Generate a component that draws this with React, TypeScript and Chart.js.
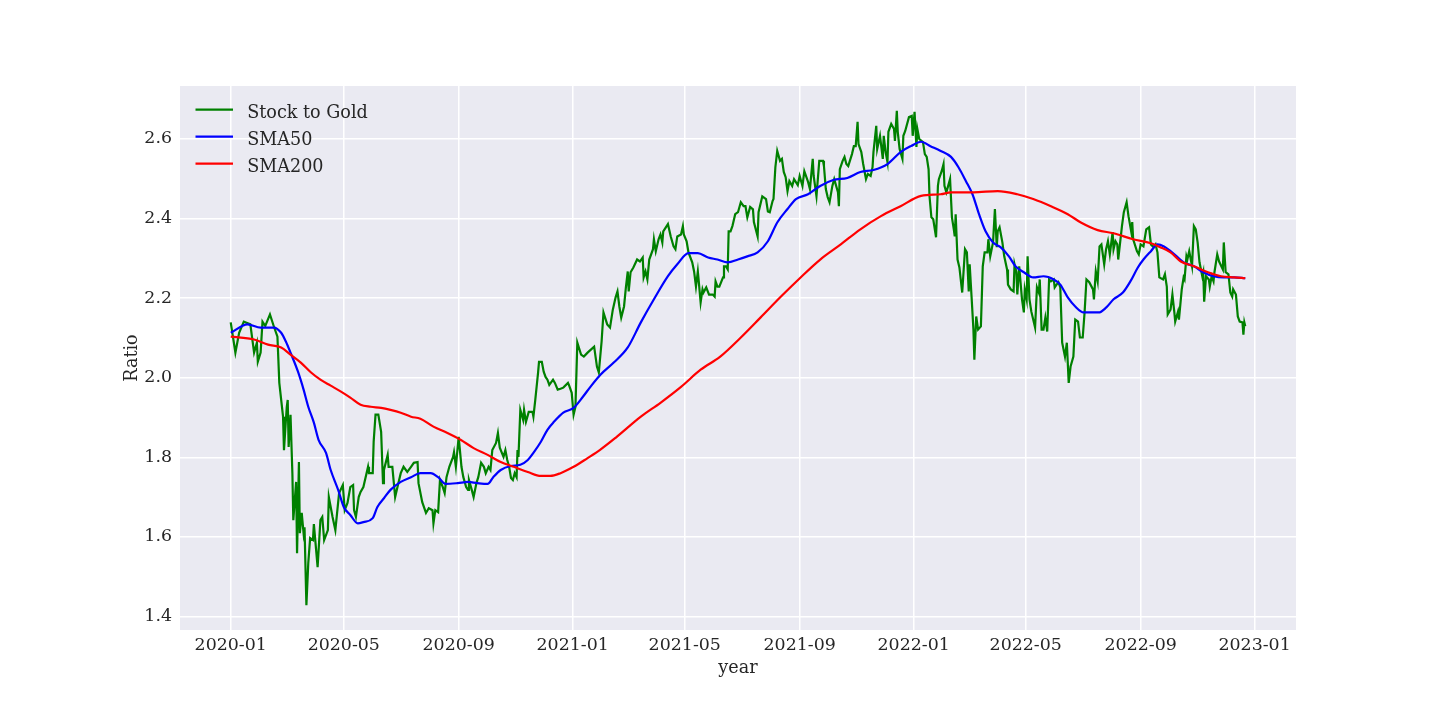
import { useEffect, useRef } from 'react';
import { Chart, registerables } from 'chart.js';

Chart.register(...registerables);

const FONT = "'DejaVu Serif', serif";
const INK = '#262626';
const PANEL = '#EAEAF2';

// x values are days counted from 2020-01-01
const START = Date.UTC(2020, 0, 1);
const xTickLabels = ['2020-01', '2020-05', '2020-09', '2021-01', '2021-05', '2021-09', '2022-01', '2022-05', '2022-09', '2023-01'];
const yTicks = [1.4, 1.6, 1.8, 2.0, 2.2, 2.4, 2.6];
const seriesLabels = ['Stock to Gold', 'SMA50', 'SMA200'];
const seriesColors = ['#008000', '#0000ff', '#ff0000'];

const greenDays = [
  0, 5, 9, 14, 21, 25, 28, 29, 32, 34,
  37, 42, 46, 50, 52, 56, 57, 60, 61, 62,
  64, 66, 67, 70, 71, 73, 74, 76, 78, 79,
  81, 83, 85, 88, 89, 93, 96, 98, 100, 104,
  105, 109, 112, 116, 120, 122, 125, 128, 131, 132,
  134, 137, 139, 142, 147, 148, 152, 153, 155, 158,
  161, 163, 164, 168, 169, 173, 176, 179, 182, 185,
  189, 193, 196, 200, 201, 205, 209, 212, 216, 217,
  219, 222, 224, 227, 229, 231, 234, 238, 239, 241,
  244, 247, 249, 252, 254, 255, 258, 260, 263, 265,
  268, 271, 273, 276, 278, 280, 284, 286, 288, 292,
  294, 296, 298, 300, 302, 304, 306, 307, 308, 310,
  313, 314, 316, 319, 323, 324, 326, 329, 330, 333,
  335, 337, 339, 341, 345, 347, 350, 353, 356, 361,
  362, 365, 367, 369, 371, 375, 378, 382, 389, 392,
  394, 397, 399, 403, 406, 409, 412, 414, 416, 418,
  421, 423, 425, 426, 428, 431, 435, 438, 441, 442,
  444, 446, 448, 452, 453, 455, 458, 460, 462, 463,
  468, 471, 474, 476, 478, 482, 484, 485, 488, 490,
  494, 496, 498, 500, 501, 503, 505, 506, 509, 512,
  516, 518, 519, 521, 523, 527, 528, 530, 532, 533,
  535, 537, 538, 540, 543, 546, 549, 551, 553, 556,
  559, 560, 564, 565, 569, 573, 575, 577, 580, 581,
  583, 585, 588, 590, 592, 594, 596, 598, 601, 603,
  607, 609, 612, 614, 618, 620, 623, 624, 627, 630,
  634, 635, 637, 639, 641, 644, 646, 650, 651, 652,
  655, 657, 659, 661, 665, 667, 669, 671, 672, 675,
  677, 680, 682, 685, 687, 688, 691, 692, 695, 698,
  699, 701, 703, 704, 707, 710, 711, 713, 714, 716,
  719, 720, 722, 726, 729, 730, 732, 734, 735, 737,
  741, 743, 745, 747, 748, 750, 752, 755, 757, 758,
  761, 763, 764, 766, 767, 770, 772, 774, 775, 776,
  778, 780, 783, 786, 788, 790, 791, 793, 795, 796,
  798, 800, 803, 805, 807, 810, 811, 813, 816, 818,
  820, 821, 823, 826, 828, 831, 832, 835, 838, 839,
  841, 842, 844, 847, 849, 850, 852, 853, 855, 857,
  859, 861, 863, 865, 866, 868, 870, 872, 874, 876,
  878, 881, 882, 884, 886, 888, 890, 893, 895, 897,
  899, 902, 904, 907, 909, 912, 914, 916, 919, 923,
  924, 926, 928, 930, 932, 935, 937, 939, 941, 944,
  945, 947, 949, 950, 954, 956, 959, 961, 964, 965,
  966, 970, 972, 974, 977, 980, 983, 985, 988, 990,
  992, 994, 998, 1000, 1002, 1003, 1006, 1008, 1010, 1011,
  1014, 1015, 1018, 1020, 1021, 1023, 1024, 1026, 1029, 1031,
  1033, 1035, 1037, 1040, 1041, 1042, 1044, 1047, 1048, 1050,
  1052, 1053, 1056, 1058, 1062, 1063, 1065, 1068, 1070, 1072,
  1073, 1076, 1078, 1080, 1083, 1084, 1085, 1086,
];
const greenValues = [
  2.139, 2.063, 2.113, 2.141, 2.134, 2.063, 2.088, 2.040, 2.063, 2.141,
  2.130, 2.159, 2.130, 2.103, 1.987, 1.902, 1.818, 1.927, 1.944, 1.826,
  1.907, 1.760, 1.642, 1.738, 1.559, 1.788, 1.609, 1.660, 1.609, 1.624,
  1.428, 1.534, 1.597, 1.592, 1.632, 1.524, 1.642, 1.650, 1.592, 1.617,
  1.700, 1.650, 1.617, 1.710, 1.730, 1.667, 1.685, 1.725, 1.730, 1.667,
  1.650, 1.700, 1.713, 1.725, 1.776, 1.760, 1.760, 1.839, 1.907, 1.907,
  1.864, 1.735, 1.768, 1.806, 1.776, 1.776, 1.700, 1.730, 1.760, 1.776,
  1.763, 1.776, 1.786, 1.788, 1.735, 1.687, 1.660, 1.672, 1.667, 1.634,
  1.667, 1.662, 1.743, 1.725, 1.710, 1.750, 1.776, 1.801, 1.813, 1.776,
  1.851, 1.776, 1.750, 1.725, 1.718, 1.743, 1.718, 1.700, 1.735, 1.750,
  1.786, 1.776, 1.760, 1.776, 1.768, 1.818, 1.836, 1.861, 1.824, 1.801,
  1.818, 1.793, 1.776, 1.748, 1.743, 1.760, 1.750, 1.818, 1.801, 1.919,
  1.894, 1.919, 1.889, 1.914, 1.914, 1.902, 1.944, 2.013, 2.040, 2.040,
  2.015, 2.002, 1.995, 1.982, 1.995, 1.987, 1.970, 1.972, 1.975, 1.987,
  1.982, 1.962, 1.907, 1.927, 2.088, 2.058, 2.053, 2.063, 2.078, 2.028,
  2.013, 2.091, 2.164, 2.134, 2.126, 2.171, 2.202, 2.217, 2.179, 2.151,
  2.179, 2.227, 2.267, 2.217, 2.265, 2.277, 2.297, 2.292, 2.302, 2.252,
  2.267, 2.247, 2.297, 2.323, 2.348, 2.318, 2.348, 2.360, 2.340, 2.368,
  2.386, 2.355, 2.330, 2.323, 2.355, 2.360, 2.381, 2.360, 2.343, 2.315,
  2.290, 2.267, 2.229, 2.267, 2.242, 2.189, 2.222, 2.214, 2.227, 2.209,
  2.209, 2.204, 2.242, 2.229, 2.229, 2.252, 2.280, 2.280, 2.272, 2.368,
  2.368, 2.381, 2.391, 2.411, 2.416, 2.441, 2.431, 2.431, 2.403, 2.429,
  2.423, 2.391, 2.355, 2.416, 2.456, 2.449, 2.418, 2.416, 2.444, 2.449,
  2.529, 2.570, 2.545, 2.550, 2.517, 2.504, 2.469, 2.494, 2.482, 2.499,
  2.484, 2.507, 2.482, 2.519, 2.492, 2.474, 2.550, 2.507, 2.456, 2.545,
  2.545, 2.532, 2.474, 2.454, 2.441, 2.482, 2.499, 2.466, 2.431, 2.524,
  2.545, 2.555, 2.537, 2.532, 2.562, 2.582, 2.582, 2.643, 2.587, 2.567,
  2.537, 2.499, 2.512, 2.507, 2.529, 2.567, 2.633, 2.575, 2.608, 2.550,
  2.608, 2.567, 2.542, 2.618, 2.638, 2.625, 2.595, 2.671, 2.618, 2.575,
  2.550, 2.608, 2.620, 2.655, 2.658, 2.608, 2.668, 2.580, 2.625, 2.600,
  2.592, 2.562, 2.555, 2.524, 2.456, 2.403, 2.398, 2.353, 2.482, 2.499,
  2.519, 2.537, 2.482, 2.466, 2.474, 2.499, 2.403, 2.373, 2.355, 2.411,
  2.297, 2.277, 2.214, 2.323, 2.315, 2.217, 2.285, 2.204, 2.121, 2.045,
  2.154, 2.121, 2.129, 2.280, 2.315, 2.315, 2.348, 2.305, 2.340, 2.424,
  2.328, 2.368, 2.378, 2.340, 2.305, 2.272, 2.234, 2.222, 2.217, 2.285,
  2.265, 2.209, 2.280, 2.197, 2.164, 2.222, 2.197, 2.305, 2.197, 2.166,
  2.146, 2.126, 2.227, 2.214, 2.247, 2.121, 2.121, 2.151, 2.116, 2.247,
  2.242, 2.247, 2.227, 2.234, 2.240, 2.227, 2.088, 2.053, 2.088, 1.987,
  2.028, 2.053, 2.146, 2.141, 2.101, 2.101, 2.164, 2.247, 2.240, 2.222,
  2.197, 2.267, 2.242, 2.330, 2.335, 2.285, 2.323, 2.343, 2.310, 2.366,
  2.323, 2.343, 2.335, 2.297, 2.381, 2.416, 2.441, 2.406, 2.366, 2.391,
  2.348, 2.318, 2.310, 2.335, 2.330, 2.373, 2.378, 2.335, 2.328, 2.335,
  2.315, 2.252, 2.247, 2.260, 2.229, 2.159, 2.171, 2.209, 2.166, 2.141,
  2.166, 2.146, 2.222, 2.252, 2.247, 2.305, 2.297, 2.318, 2.280, 2.381,
  2.373, 2.340, 2.290, 2.255, 2.265, 2.191, 2.255, 2.247, 2.229, 2.255,
  2.242, 2.265, 2.310, 2.292, 2.272, 2.340, 2.265, 2.260, 2.214, 2.204,
  2.222, 2.209, 2.154, 2.141, 2.139, 2.108, 2.139, 2.129,
];

const sma50Days = [
  0, 18, 32, 46, 54, 59, 64, 72, 78, 83,
  89, 94, 102, 107, 115, 121, 128, 136, 142, 152,
  157, 164, 171, 182, 193, 203, 214, 222, 230, 243,
  254, 264, 275, 281, 289, 300, 310, 318, 324, 332,
  339, 346, 356, 367, 377, 385, 396, 410, 425, 439,
  453, 468, 478, 490, 500, 511, 521, 532, 543, 553,
  564, 575, 585, 596, 605, 618, 631, 645, 660, 674,
  688, 703, 717, 728, 739, 749, 760, 771, 779, 787,
  794, 801, 808, 816, 824, 833, 840, 849, 859, 870,
  881, 888, 896, 904, 913, 929, 937, 945, 955, 963,
  971, 977, 985, 992, 999, 1006, 1014, 1020, 1031, 1041,
  1052, 1063, 1074, 1086,
];
const sma50Values = [
  2.113, 2.134, 2.126, 2.126, 2.113, 2.091, 2.063, 2.015, 1.970, 1.927,
  1.887, 1.844, 1.811, 1.768, 1.718, 1.675, 1.655, 1.634, 1.637, 1.647,
  1.675, 1.697, 1.718, 1.738, 1.750, 1.760, 1.760, 1.750, 1.733, 1.735,
  1.738, 1.735, 1.733, 1.750, 1.768, 1.778, 1.781, 1.793, 1.811, 1.839,
  1.869, 1.889, 1.912, 1.924, 1.952, 1.977, 2.008, 2.038, 2.076, 2.139,
  2.197, 2.255, 2.285, 2.313, 2.313, 2.302, 2.297, 2.290, 2.297, 2.305,
  2.315, 2.343, 2.390, 2.424, 2.449, 2.461, 2.482, 2.497, 2.502, 2.517,
  2.522, 2.537, 2.567, 2.582, 2.593, 2.582, 2.570, 2.555, 2.529, 2.494,
  2.461, 2.411, 2.368, 2.340, 2.328, 2.305, 2.280, 2.265, 2.252, 2.255,
  2.247, 2.234, 2.202, 2.179, 2.164, 2.164, 2.176, 2.197, 2.214, 2.242,
  2.277, 2.297, 2.318, 2.335, 2.330, 2.318, 2.302, 2.290, 2.280, 2.265,
  2.255, 2.252, 2.252, 2.250,
];

const sma200Days = [
  0, 25, 40, 54, 64, 75, 86, 96, 107, 118,
  128, 139, 150, 161, 171, 182, 193, 203, 217, 232,
  246, 260, 275, 289, 303, 318, 332, 342, 353, 367,
  382, 395, 412, 439, 460, 482, 503, 524, 546, 567,
  589, 610, 631, 653, 674, 696, 717, 739, 760, 771,
  795, 821, 842, 859, 878, 896, 910, 928, 945, 966,
  985, 995, 1006, 1017, 1031, 1046, 1060, 1074, 1086,
];
const sma200Values = [
  2.103, 2.096, 2.083, 2.076, 2.058, 2.038, 2.013, 1.995, 1.980, 1.965,
  1.950, 1.932, 1.927, 1.924, 1.919, 1.912, 1.902, 1.897, 1.877, 1.861,
  1.844, 1.823, 1.806, 1.788, 1.776, 1.763, 1.753, 1.753, 1.760, 1.776,
  1.798, 1.818, 1.849, 1.902, 1.937, 1.977, 2.020, 2.053, 2.101, 2.151,
  2.204, 2.252, 2.297, 2.335, 2.373, 2.406, 2.431, 2.457, 2.461, 2.466,
  2.466, 2.469, 2.461, 2.449, 2.431, 2.411, 2.390, 2.371, 2.363, 2.348,
  2.338, 2.328, 2.315, 2.292, 2.280, 2.265, 2.255, 2.252, 2.250,
];

const xTickDays = xTickLabels.map((s) => {
  const [y, m] = s.split('-').map(Number);
  return (Date.UTC(y, m - 1, 1) - START) / 86400000;
});

const toPoints = (days: number[], vals: number[]) => days.map((d, i) => ({ x: d, y: vals[i] }));

// matplotlib-style 5% margins around the data
const pad = (lo: number, hi: number) => [lo - (hi - lo) * 0.05, hi + (hi - lo) * 0.05];
const allVals = [...greenValues, ...sma50Values, ...sma200Values];
const [xMin, xMax] = pad(0, greenDays[greenDays.length - 1]);
const [yMin, yMax] = pad(Math.min(...allVals), Math.max(...allVals));

const decor = {
  id: 'decor',
  beforeDraw(c: any) {
    const { ctx, chartArea: a } = c;
    ctx.save();
    ctx.fillStyle = PANEL;
    ctx.fillRect(a.left, a.top, a.width, a.height);
    ctx.restore();
  },
  afterDraw(c: any) {
    const { ctx, chartArea: a } = c;
    ctx.save();
    ctx.font = `17.6px ${FONT}`;
    ctx.textBaseline = 'alphabetic';
    ctx.textAlign = 'left';
    c.data.datasets.forEach((ds: any, i: number) => {
      const y = a.top + 23.7 + 27 * i;
      ctx.strokeStyle = ds.borderColor;
      ctx.lineWidth = 2.2;
      ctx.beginPath();
      ctx.moveTo(a.left + 15.5, y);
      ctx.lineTo(a.left + 53, y);
      ctx.stroke();
      ctx.fillStyle = INK;
      ctx.fillText(ds.label, a.left + 67.2, y + 8);
    });
    // axis titles
    ctx.fillStyle = INK;
    ctx.textAlign = 'center';
    ctx.fillText('year', (a.left + a.right) / 2, a.bottom + 43.3);
    ctx.translate(a.left - 43.5, (a.top + a.bottom) / 2);
    ctx.rotate(-Math.PI / 2);
    ctx.fillText('Ratio', 0, 0);
    ctx.restore();
  },
};

export default function App() {
  const ref = useRef<HTMLCanvasElement>(null);
  const ci = useRef<Chart | null>(null);

  useEffect(() => {
    document.body.style.margin = '0';
    if (!ref.current) return;
    ci.current?.destroy();

    const sets = [toPoints(greenDays, greenValues), toPoints(sma50Days, sma50Values), toPoints(sma200Days, sma200Values)];
    const datasets = sets.map((data, i) => ({
      label: seriesLabels[i],
      data,
      borderColor: seriesColors[i],
      backgroundColor: seriesColors[i],
      borderWidth: 2.2,
      pointRadius: 0,
      // the moving averages are smooth curves in the original
      cubicInterpolationMode: i === 0 ? 'default' : 'monotone',
      fill: false,
      order: 3 - i,
    }));

    const tickFont = { family: FONT, size: 17.4 };

    ci.current = new Chart(ref.current, {
      type: 'line',
      data: { datasets },
      options: {
        responsive: false,
        animation: false,
        layout: { padding: { left: 0, right: 144, top: 86, bottom: 0 } },
        plugins: { legend: { display: false }, tooltip: { enabled: false } },
        scales: {
          x: {
            type: 'linear', min: xMin, max: xMax,
            grid: { color: '#ffffff', lineWidth: 1.5, drawTicks: false },
            border: { display: false },
            afterBuildTicks: (s: any) => { s.ticks = xTickDays.map((v) => ({ value: v })); },
            afterFit: (s: any) => { s.height = 90; },
            ticks: {
              font: tickFont, color: INK, padding: 5, maxRotation: 0, autoSkip: false,
              callback: (v: any) => xTickLabels[xTickDays.indexOf(Number(v))] ?? '',
            },
          },
          y: {
            type: 'linear', min: yMin, max: yMax,
            grid: { color: '#ffffff', lineWidth: 1.5, drawTicks: false },
            border: { display: false },
            afterBuildTicks: (s: any) => { s.ticks = yTicks.map((v) => ({ value: v })); },
            afterFit: (s: any) => { s.width = 180; },
            ticks: { font: tickFont, color: INK, padding: 8, callback: (v: any) => Number(v).toFixed(1) },
          },
        },
      },
      plugins: [decor],
    } as any);

    return () => { ci.current?.destroy(); ci.current = null; };
  }, []);

  return (
    <div style={{ width: 1440, height: 720, background: '#ffffff' }}>
      <canvas ref={ref} width={1440} height={720} style={{ display: 'block' }} />
    </div>
  );
}
